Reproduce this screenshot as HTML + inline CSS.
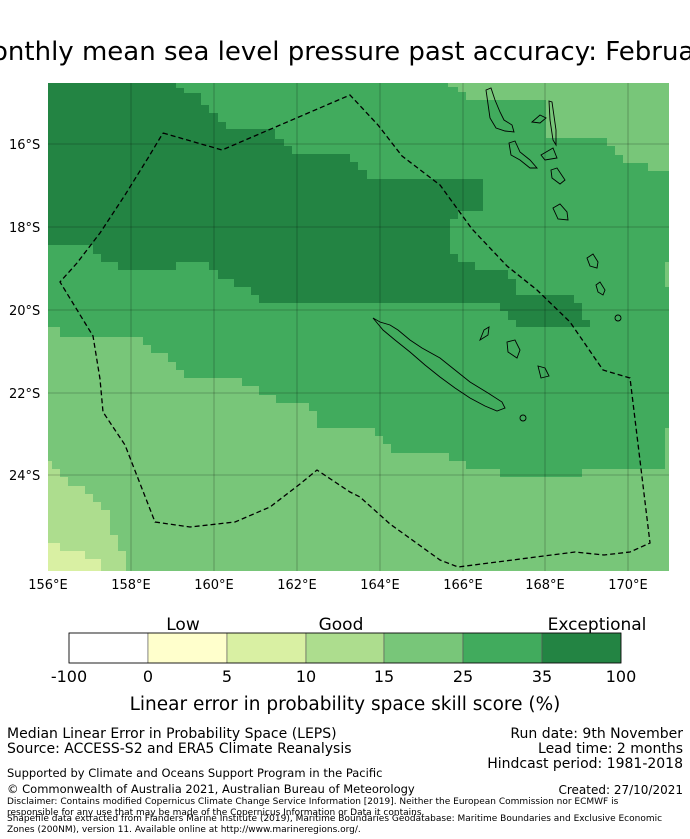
<!DOCTYPE html>
<html><head><meta charset="utf-8"><style>
body{margin:0;background:#fff;width:690px;height:839px;overflow:hidden;font-family:"DejaVu Sans","Liberation Sans",sans-serif}
svg{position:absolute;left:0;top:0}
</style></head><body>
<svg width="690" height="839" font-family="DejaVu Sans, Liberation Sans, sans-serif">
<text x="345" y="60" font-size="26" text-anchor="middle">Monthly mean sea level pressure past accuracy: February</text>
<defs><clipPath id="mc"><rect x="48" y="83" width="621" height="488"/></clipPath></defs>
<g clip-path="url(#mc)">
<rect x="48" y="83" width="621" height="488" fill="#41ab5d"/>
<polygon fill="#238443" points="48,83 176,83 176,88 184,88 184,93 201,93 201,105 209,105 209,113 218,113 218,122 226,122 226,129 275,129 275,139 284,139 284,146 292,146 292,154 350,154 350,162 358,162 358,170 367,170 367,179 483,179 483,211 458,211 458,219 450,219 450,254 458,254 458,262 475,262 475,270 508,270 508,279 516,279 516,295 574,295 574,303 582,303 582,320 590,320 590,327 516,327 516,320 508,320 508,311 500,311 500,303 259,303 259,295 251,295 251,287 234,287 234,279 218,279 218,270 209,270 209,262 176,262 176,270 118,270 118,262 101,262 101,254 93,254 93,245 48,245"/>
<polygon fill="#78c679" points="448,83 669,83 669,171 648,171 648,163 623,163 623,155 615,155 615,146 607,146 607,138 546,138 546,100 466,100 466,92 458,92 458,87 448,87"/>
<polygon fill="#78c679" points="665,262 669,262 669,287 665,287"/>
<polygon fill="#78c679" points="48,327 60,327 60,337 143,337 143,345 151,345 151,353 168,353 168,362 176,362 176,370 184,370 184,378 242,378 242,386 259,386 259,395 276,395 276,403 309,403 309,411 317,411 317,428 375,428 375,436 383,436 383,444 391,444 391,453 449,453 449,461 466,461 466,469 500,469 500,477 582,477 582,469 665,469 665,428 669,428 669,571 48,571"/>
<polygon fill="#addd8e" points="48,461 52,461 52,469 60,469 60,477 68,477 68,486 85,486 85,494 93,494 93,502 101,502 101,510 110,510 110,535 118,535 118,551 126,551 126,571 48,571"/>
<polygon fill="#d9f0a3" points="48,543 60,543 60,551 85,551 85,559 101,559 101,571 48,571"/>
<g stroke="#000" stroke-opacity="0.3" stroke-width="0.8">
<line x1="131" y1="83" x2="131" y2="571"/><line x1="214" y1="83" x2="214" y2="571"/><line x1="297" y1="83" x2="297" y2="571"/><line x1="380" y1="83" x2="380" y2="571"/><line x1="463" y1="83" x2="463" y2="571"/><line x1="545" y1="83" x2="545" y2="571"/><line x1="628" y1="83" x2="628" y2="571"/>
<line x1="48" y1="144" x2="669" y2="144"/><line x1="48" y1="227" x2="669" y2="227"/><line x1="48" y1="310" x2="669" y2="310"/><line x1="48" y1="393" x2="669" y2="393"/><line x1="48" y1="475" x2="669" y2="475"/>
</g>
<g fill="none" stroke="#000" stroke-width="0.9">
<polygon points="373,318 380,322 390,325 398,330 410,340 422,348 440,358 455,370 470,382 488,393 502,402 505,408 497,411 485,406 470,398 455,388 440,377 425,365 410,352 395,340 383,330"/>
<circle cx="523" cy="418" r="3"/>
<polygon points="484,330 489,327 488,335 480,340"/>
<polygon points="507,342 515,340 520,350 517,358 508,352"/>
<polygon points="538,366 545,368 549,376 541,378"/>
<polygon points="486,90 491,88 495,100 500,112 504,120 512,125 514,132 505,131 496,128 490,118 488,104"/>
<polygon points="549,101 552,102 556,130 556,145 553,140 550,120"/>
<polygon points="532,122 540,115 546,118 540,123"/>
<polygon points="509,143 515,141 520,152 530,160 537,168 530,168 520,160 511,155"/>
<polygon points="541,155 553,148 557,158 545,160"/>
<polygon points="551,170 557,168 565,180 560,184 552,178"/>
<polygon points="553,208 560,204 567,212 568,220 558,219"/>
<polygon points="587,258 593,254 598,262 597,268 590,266"/>
<polygon points="596,285 600,282 605,290 603,295 598,292"/>
<circle cx="618" cy="318" r="3"/>
</g>
<polyline fill="none" stroke="#000" stroke-width="1.3" stroke-dasharray="5,3" points="163,133 222,150 350,95 378,125 402,156 440,185 472,229 507,266 537,290 570,322 603,370 630,378 650,543 630,552 604,555 575,552 458,567 440,560 390,524 360,497 350,492 317,470 300,484 270,507 235,522 190,527 155,522 125,445 103,412 100,379 93,336 60,282 77,263 100,233 125,195 148,158 163,133"/>
</g>
<g font-size="13">
<text x="9" y="149">16°S</text><text x="9" y="232">18°S</text><text x="9" y="315">20°S</text><text x="9" y="398">22°S</text><text x="9" y="480">24°S</text>
</g>
<g font-size="13" text-anchor="middle">
<text x="48" y="589">156°E</text><text x="131" y="589">158°E</text><text x="214" y="589">160°E</text><text x="297" y="589">162°E</text><text x="380" y="589">164°E</text><text x="463" y="589">166°E</text><text x="545" y="589">168°E</text><text x="628" y="589">170°E</text>
</g>
<g font-size="17" text-anchor="middle">
<text x="183" y="630">Low</text><text x="341" y="630">Good</text><text x="597" y="630">Exceptional</text>
</g>
<g stroke="#555" stroke-width="0.6">
<rect x="69" y="633" width="79" height="30" fill="#ffffff"/>
<rect x="148" y="633" width="79" height="30" fill="#ffffcc"/>
<rect x="227" y="633" width="79" height="30" fill="#d9f0a3"/>
<rect x="306" y="633" width="78" height="30" fill="#addd8e"/>
<rect x="384" y="633" width="79" height="30" fill="#78c679"/>
<rect x="463" y="633" width="79" height="30" fill="#41ab5d"/>
<rect x="542" y="633" width="79" height="30" fill="#238443"/>
<rect x="69" y="633" width="552" height="30" fill="none" stroke="#000" stroke-width="0.8"/>
</g>
<g font-size="16" text-anchor="middle">
<text x="69" y="682">-100</text><text x="148" y="682">0</text><text x="227" y="682">5</text><text x="306" y="682">10</text><text x="384" y="682">15</text><text x="463" y="682">25</text><text x="542" y="682">35</text><text x="621" y="682">100</text>
</g>
<text x="345" y="710" font-size="18.5" text-anchor="middle">Linear error in probability space skill score (%)</text>
<g font-size="14">
<text x="7" y="738">Median Linear Error in Probability Space (LEPS)</text>
<text x="7" y="753">Source: ACCESS-S2 and ERA5 Climate Reanalysis</text>
</g>
<g font-size="11.5">
<text x="7" y="777">Supported by Climate and Oceans Support Program in the Pacific</text>
<text x="7" y="793">© Commonwealth of Australia 2021, Australian Bureau of Meteorology</text>
</g>
<g font-size="14" text-anchor="end">
<text x="683" y="738">Run date: 9th November</text>
<text x="683" y="753">Lead time: 2 months</text>
<text x="683" y="768">Hindcast period: 1981-2018</text>
</g>
<text x="683" y="794" font-size="12" text-anchor="end">Created: 27/10/2021</text>
<g font-size="9">
<text x="7" y="804">Disclaimer: Contains modified Copernicus Climate Change Service Information [2019]. Neither the European Commission nor ECMWF is</text>
<text x="7" y="815">responsible for any use that may be made of the Copernicus Information or Data it contains.</text>
<text x="7" y="821">Shapefile data extracted from Flanders Marine Institute (2019), Maritime Boundaries Geodatabase: Maritime Boundaries and Exclusive Economic</text>
<text x="7" y="832">Zones (200NM), version 11. Available online at http://www.marineregions.org/.</text>
</g>
</svg>
</body></html>
